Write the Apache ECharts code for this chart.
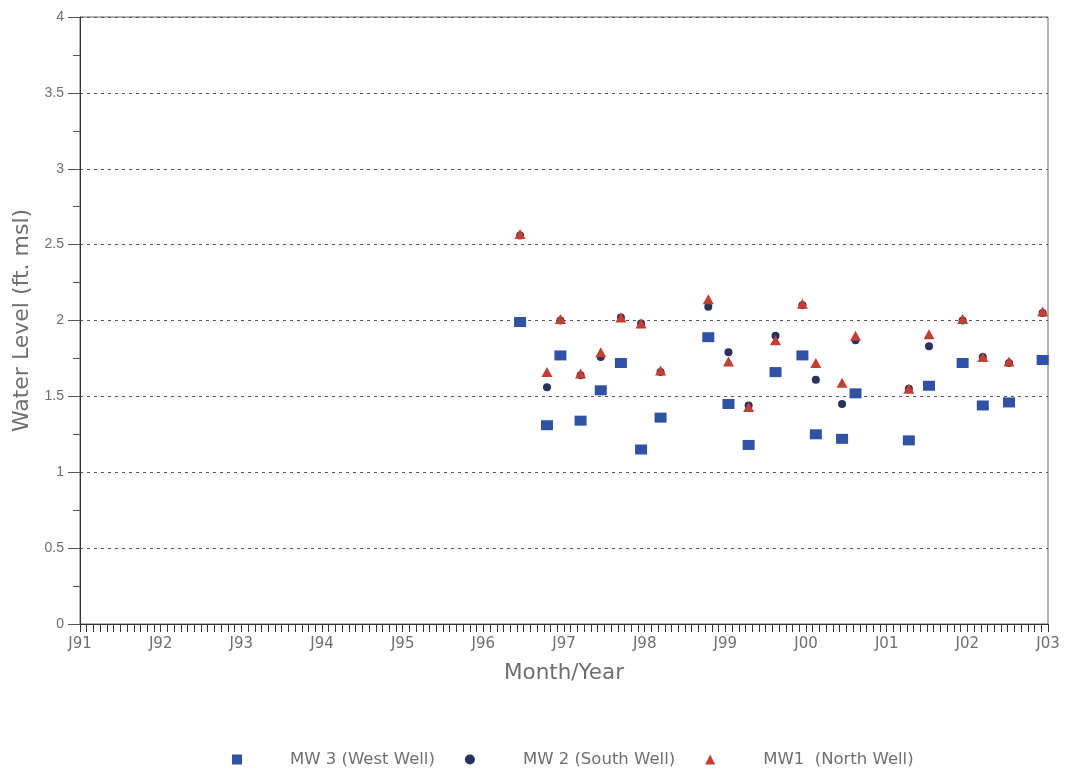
<!doctype html>
<html>
<head>
<meta charset="UTF-8">
<title>Water Level</title>
<script src="https://cdn.jsdelivr.net/npm/echarts@6/dist/echarts.min.js"></script>
<style>
  html, body { margin: 0; padding: 0; background: #fff; }
  #chart { width: 1065px; height: 772px; }
</style>
</head>
<body>
<div id="chart"></div>
<script>
// sample dates (year-month-day), one per sampling event
var sampleDates = ['1996-06-15', '1996-10-15', '1996-12-15', '1997-03-15', '1997-06-15',
  '1997-09-15', '1997-12-15', '1998-03-12', '1998-10-15', '1999-01-15', '1999-04-15',
  '1999-08-15', '1999-12-15', '2000-02-15', '2000-06-12', '2000-08-12', '2001-04-10',
  '2001-07-10', '2001-12-10', '2002-03-10', '2002-07-07', '2002-12-07'];
var mw3 = [1.99, 1.31, 1.77, 1.34, 1.54, 1.72, 1.15, 1.36, 1.89, 1.45, 1.18,
  1.66, 1.77, 1.25, 1.22, 1.52, 1.21, 1.57, 1.72, 1.44, 1.46, 1.74];
var mw2 = [2.56, 1.56, 2.00, 1.64, 1.76, 2.02, 1.98, 1.66, 2.09, 1.79, 1.44,
  1.90, 2.10, 1.61, 1.45, 1.87, 1.55, 1.83, 2.00, 1.76, 1.72, 2.05];
var mw1 = [2.57, 1.66, 2.01, 1.65, 1.79, 2.02, 1.98, 1.67, 2.14, 1.73, 1.43,
  1.87, 2.11, 1.72, 1.59, 1.90, 1.55, 1.91, 2.01, 1.76, 1.73, 2.06];
var xTickLabels = ['J91', 'J92', 'J93', 'J94', 'J95', 'J96', 'J97', 'J98', 'J99', 'J00', 'J01', 'J02', 'J03'];
var startYear = 1991;

// months since Jan 1991
function toMonths(d) {
  var p = d.split('-');
  return (+p[0] - startYear) * 12 + (+p[1] - 1) + (+p[2] - 1) / 30;
}
function pairs(vals) {
  return vals.map(function (v, i) { return [toMonths(sampleDates[i]), v]; });
}

var grey = '#6f6f6f';
var font = 'Liberation Sans, Arial, sans-serif';
var wideFont = 'DejaVu Sans, Verdana, sans-serif';

var option = {
  backgroundColor: '#fff',
  animation: false,
  grid: {
    left: 80, right: 17, top: 17, bottom: 148,
    show: true, borderColor: '#666', borderWidth: 1
  },
  legend: {
    top: 746,
    left: 227,
    itemGap: 30,
    itemWidth: 10,
    itemHeight: 10,
    textStyle: { color: grey, fontSize: 16.5, fontFamily: wideFont, padding: [0, 0, 0, 43] },
    data: ['MW 3 (West Well)', 'MW 2 (South Well)', 'MW1  (North Well)']
  },
  xAxis: {
    type: 'value',
    min: 0,
    max: 144,
    interval: 12,
    name: 'Month/Year',
    nameLocation: 'middle',
    nameGap: 38,
    nameTextStyle: { color: grey, fontSize: 21.5, fontFamily: wideFont },
    axisLine: { lineStyle: { color: '#333', width: 1 } },
    axisTick: { show: true, length: 8, lineStyle: { color: '#333' } },
    minorTick: { show: true, splitNumber: 12, length: 8, lineStyle: { color: '#333' } },
    splitLine: { show: false },
    axisLabel: {
      color: grey, fontSize: 15, fontFamily: wideFont, margin: 13,
      formatter: function (v) { return xTickLabels[Math.round(v / 12)]; }
    }
  },
  yAxis: {
    type: 'value',
    min: 0,
    max: 4,
    interval: 0.5,
    name: 'Water Level (ft. msl)',
    nameLocation: 'middle',
    nameGap: 44,
    nameTextStyle: { color: grey, fontSize: 22, fontFamily: wideFont },
    axisLine: { show: true, lineStyle: { color: '#333' } },
    axisTick: { show: true, length: 12, lineStyle: { color: '#555' } },
    minorTick: { show: true, splitNumber: 2, length: 7, lineStyle: { color: '#555' } },
    splitLine: { show: true, lineStyle: { color: '#555', type: [3, 4], width: 1 } },
    axisLabel: { color: grey, fontSize: 14, fontFamily: font, margin: 16 }
  },
  series: [{
    name: 'MW 3 (West Well)',
    type: 'scatter',
    symbol: 'rect',
    symbolSize: [12, 10],
    itemStyle: { color: '#2f52a6', opacity: 1 },
    data: pairs(mw3),
    z: 2
  }, {
    name: 'MW 2 (South Well)',
    type: 'scatter',
    symbol: 'circle',
    symbolSize: 8,
    itemStyle: { color: '#27325e', opacity: 1 },
    data: pairs(mw2),
    z: 3
  }, {
    name: 'MW1  (North Well)',
    type: 'scatter',
    symbol: 'triangle',
    symbolSize: [11, 10],
    itemStyle: { color: '#c63d33', opacity: 1 },
    data: pairs(mw1),
    z: 4
  }]
};

var myChart = echarts.init(document.getElementById('chart'));
myChart.setOption(option);
</script>
</body>
</html>
